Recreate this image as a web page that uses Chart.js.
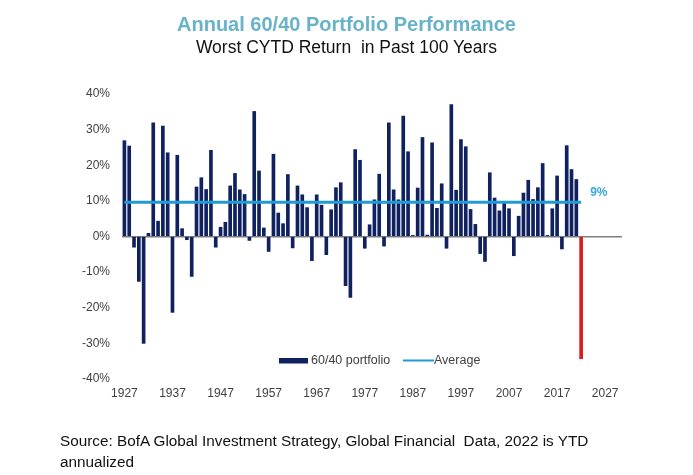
<!DOCTYPE html>
<html><head><meta charset="utf-8">
<script src="https://cdn.jsdelivr.net/npm/chart.js@4/dist/chart.umd.min.js"></script>
<style>
html,body{margin:0;padding:0;background:#fff;}
#wrap{position:relative;width:693px;height:475px;overflow:hidden;font-family:"Liberation Sans",Arial,sans-serif;}
#title{position:absolute;left:0;top:14px;width:693px;text-align:center;font-size:20px;line-height:20px;font-weight:bold;color:#68b3c9;}
#subtitle{position:absolute;left:0;top:39px;width:693px;text-align:center;font-size:17.5px;line-height:17px;color:#111;}
#source{position:absolute;left:60px;top:430px;font-size:15.3px;line-height:21px;color:#111;white-space:nowrap;}
#chartBox{position:absolute;left:0;top:0;width:693px;height:475px;}
</style></head>
<body>
<div id="wrap">
<div id="chartBox"><canvas id="c"></canvas></div>
<div id="title">Annual 60/40 Portfolio Performance</div>
<div id="subtitle">Worst CYTD Return&nbsp; in Past 100 Years</div>
<div id="source">Source: BofA Global Investment Strategy, Global Financial&nbsp; Data, 2022 is YTD<br>annualized</div>
</div>
<script>
// Category range of the x axis (years), first data year is 1927
const firstYear = 1927;
const lastAxisYear = 2030;
// Annual 60/40 portfolio returns (%), 1927 .. 2022 (2022 is YTD annualized)
const returns = [
  26.9, 25.4, -3.0, -12.6, -30.0, 0.9, 31.9, 4.3, 31.0, 23.5,      // 1927-1936
  -21.3, 22.8, 2.2, -0.9, -11.2, 13.9, 16.5, 13.2, 24.2, -3.0,     // 1937-1946
  2.6, 4.0, 14.2, 17.7, 13.1, 11.8, -1.1, 35.1, 18.4, 2.4,         // 1947-1956
  -4.2, 23.1, 6.6, 3.6, 17.4, -3.2, 14.2, 11.7, 8.1, -6.8,         // 1957-1966
  11.7, 8.8, -5.1, 7.5, 13.7, 15.1, -13.8, -17.1, 24.4, 21.4,      // 1967-1976
  -3.3, 3.3, 10.3, 17.5, -2.7, 31.9, 13.1, 10.3, 33.8, 23.8,       // 1977-1986
  0.3, 13.6, 27.8, 0.4, 26.3, 7.9, 14.8, -3.3, 37.0, 13.0,         // 1987-1996
  27.2, 25.2, 7.6, 3.4, -4.8, -7.0, 17.9, 10.8, 7.2, 9.4,          // 1997-2006
  7.8, -5.4, 5.7, 12.2, 15.8, 10.4, 13.7, 20.5, 0.3, 7.8,          // 2007-2016
  17.0, -3.5, 25.5, 18.8, 16.0, -34.3                              // 2017-2022
];
const averageReturn = 9.6;
const averageLabel = '9%';
const tickYears = [1927, 1937, 1947, 1957, 1967, 1977, 1987, 1997, 2007, 2017, 2027];
const yTicks = [-40, -30, -20, -10, 0, 10, 20, 30, 40];
const seriesNames = ['60/40 portfolio', 'Average'];
const highlightYear = 2022;

const labels = [];
for (let yr = firstYear; yr <= lastAxisYear; yr++) labels.push(yr);
const averageData = returns.map(() => averageReturn);

const NAVY = '#10215f';
const BLUE = '#1f9cd6';
const RED = '#e01b1b';
const FONT = '"Liberation Sans", Arial, sans-serif';

const barColors = returns.map((v, i) => (labels[i] === highlightYear ? RED : NAVY));

const overlay = {
  id: 'overlay',
  afterDatasetsDraw(chart) {
    const { ctx, chartArea, scales: { x, y } } = chart;
    ctx.save();
    const lastIdx = returns.length - 1;
    ctx.font = 'bold 12px ' + FONT;
    ctx.fillStyle = '#3aa9d9';
    ctx.textAlign = 'left';
    ctx.textBaseline = 'middle';
    ctx.fillText(averageLabel, x.getPixelForValue(lastIdx) + 9, y.getPixelForValue(averageReturn) - 10);
    const ly = chartArea.bottom - 18.5;
    let lx = 279;
    ctx.fillStyle = NAVY;
    ctx.fillRect(lx, ly - 2.5, 29, 5.5);
    ctx.font = '12.5px ' + FONT;
    ctx.fillStyle = '#404040';
    ctx.fillText(seriesNames[0], lx + 32, ly + 0.5);
    lx = 403;
    ctx.strokeStyle = BLUE;
    ctx.lineWidth = 2;
    ctx.beginPath();
    ctx.moveTo(lx, ly);
    ctx.lineTo(lx + 31, ly);
    ctx.stroke();
    ctx.fillStyle = '#404040';
    ctx.fillText(seriesNames[1], lx + 31, ly + 0.5);
    ctx.restore();
  }
};

new Chart(document.getElementById('c'), {
  type: 'bar',
  data: {
    labels: labels,
    datasets: [
      {
        type: 'line',
        label: seriesNames[1],
        data: averageData,
        borderColor: BLUE,
        borderWidth: 3,
        pointRadius: 0,
        fill: false,
        order: 0
      },
      {
        type: 'bar',
        label: seriesNames[0],
        data: returns,
        backgroundColor: barColors,
        barThickness: 3,
        order: 1
      }
    ]
  },
  options: {
    responsive: true,
    maintainAspectRatio: false,
    animation: false,
    layout: { padding: { top: 94, right: 71, bottom: 66, left: 0 } },
    plugins: {
      legend: { display: false },
      tooltip: { enabled: false },
      title: { display: false }
    },
    scales: {
      x: {
        type: 'category',
        offset: true,
        grid: { display: false, drawTicks: false },
        border: { display: false },
        afterFit(scale) { scale.height = 30; },
        ticks: {
          autoSkip: false,
          maxRotation: 0,
          minRotation: 0,
          padding: 7,
          color: '#404040',
          font: { family: FONT, size: 12 },
          callback(val, idx) {
            const yr = labels[idx];
            return tickYears.includes(yr) ? String(yr) : '';
          }
        }
      },
      y: {
        min: yTicks[0],
        max: yTicks[yTicks.length - 1],
        afterFit(scale) { scale.width = 122; },
        afterBuildTicks(scale) { scale.ticks = yTicks.map(v => ({ value: v })); },
        grid: {
          drawTicks: false,
          color: (c) => (c.tick && c.tick.value === 0 ? '#7f7f7f' : 'rgba(0,0,0,0)'),
          lineWidth: 1.5
        },
        border: { display: false },
        ticks: {
          padding: 12,
          color: '#404040',
          font: { family: FONT, size: 12 },
          callback: (v) => v + '%'
        }
      }
    }
  },
  plugins: [overlay]
});
</script>
</body></html>
